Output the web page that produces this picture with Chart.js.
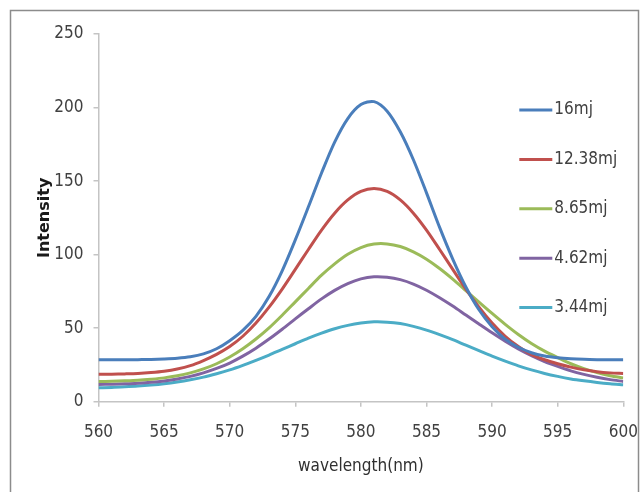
<!DOCTYPE html>
<html>
<head>
<meta charset="utf-8">
<title>Intensity vs wavelength</title>
<script src="https://cdn.jsdelivr.net/npm/chart.js@4.4.1/dist/chart.umd.min.js"></script>
<style>
  html, body { margin: 0; padding: 0; background: #ffffff; }
  #wrap { width: 643px; height: 492px; position: relative; }
</style>
</head>
<body>
<div id="wrap"><canvas id="spectrumChart" width="643" height="492"></canvas></div>
<script>
// wavelength (nm), one point per nm
const wavelength = [560, 561, 562, 563, 564, 565, 566, 567, 568, 569,
                    570, 571, 572, 573, 574, 575, 576, 577, 578, 579,
                    580, 581, 582, 583, 584, 585, 586, 587, 588, 589,
                    590, 591, 592, 593, 594, 595, 596, 597, 598, 599, 600];

const seriesNames = ["16mj", "12.38mj", "8.65mj", "4.62mj", "3.44mj"];

const int16 = [28.5, 28.5, 28.5, 28.6, 28.7, 29.0, 29.5, 30.5, 32.5, 36.0,
               41.5, 48.5, 58.0, 71.5, 89.0, 110.0, 132.5, 155.5, 176.5, 192.5,
               202.0, 204.0, 197.5, 183.5, 164.5, 142.0, 118.5, 97.0, 78.0, 62.5,
               51.0, 42.5, 37.0, 33.3, 31.1, 29.9, 29.2, 28.8, 28.6, 28.5, 28.5];

const int1238 = [18.6, 18.7, 18.9, 19.2, 19.8, 20.7, 22.2, 24.5, 28.0, 32.2,
                 37.5, 44.5, 53.5, 64.3, 76.6, 90.0, 103.5, 116.7, 128.2, 137.2,
                 143.0, 145.0, 143.0, 137.2, 128.2, 116.7, 103.5, 90.0, 76.6, 64.3,
                 53.5, 44.5, 37.5, 32.0, 28.5, 25.8, 23.5, 21.7, 20.4, 19.6, 19.2];

const int865 = [13.7, 13.9, 14.2, 14.6, 15.3, 16.2, 17.6, 19.6, 22.3, 25.8,
                30.4, 36.0, 42.6, 50.2, 58.8, 67.9, 77.0, 86.0, 93.7, 100.2,
                104.8, 107.2, 107.3, 105.5, 101.9, 96.9, 90.6, 83.4, 75.6, 67.7,
                60.0, 52.6, 45.7, 39.6, 34.4, 30.0, 25.8, 22.5, 19.8, 17.7, 16.2];

const int462 = [11.7, 11.9, 12.2, 12.6, 13.2, 14.1, 15.4, 17.2, 19.6, 22.6,
                26.3, 31.0, 36.4, 42.6, 49.3, 56.3, 63.2, 69.9, 75.7, 80.3,
                83.5, 84.9, 84.6, 83.0, 80.0, 75.8, 70.7, 65.0, 58.9, 52.8,
                46.8, 41.1, 35.9, 31.3, 27.3, 24.0, 21.0, 18.6, 16.6, 15.0, 13.8];

const int344 = [9.5, 9.7, 10.1, 10.6, 11.3, 12.2, 13.4, 14.9, 16.7, 19.0,
                21.6, 24.7, 28.1, 31.7, 35.6, 39.4, 43.2, 46.6, 49.6, 51.9,
                53.5, 54.3, 54.1, 53.1, 51.2, 48.7, 45.6, 42.2, 38.4, 34.7,
                31.0, 27.6, 24.4, 21.6, 19.2, 17.2, 15.5, 14.2, 13.1, 12.2, 11.5];

const seriesValues = [int16, int1238, int865, int462, int344];
const seriesColors = ["#4a7ebb", "#c0504d", "#9bbb59", "#8064a2", "#4bacc6"];

const NARROW = "'Liberation Sans Narrow', 'DejaVu Sans Condensed', 'Liberation Sans', sans-serif";
const TEXT = "#404040";
const AXIS = "#c4c4c4";

// gray frame around the whole figure
const frame = {
    id: "frame",
    beforeDraw(chart) {
        const ctx = chart.ctx;
        ctx.save();
        ctx.strokeStyle = "#8c8c8c";
        ctx.lineWidth = 1.5;
        ctx.strokeRect(10.5, 10.5, 628, 500);
        ctx.restore();
    }
};

// legend: short line + label, stacked inside the plot on the right
const lineLegend = {
    id: "lineLegend",
    afterDatasetsDraw(chart) {
        const { ctx, chartArea } = chart;
        const x0 = chartArea.right - 104;
        ctx.save();
        ctx.font = "17px " + NARROW;
        ctx.textBaseline = "middle";
        ctx.textAlign = "left";
        chart.data.datasets.forEach((ds, i) => {
            const y = chartArea.top + 76 + i * 49.4;
            ctx.strokeStyle = ds.borderColor;
            ctx.lineWidth = 3;
            ctx.beginPath();
            ctx.moveTo(x0, y);
            ctx.lineTo(x0 + 33, y);
            ctx.stroke();
            ctx.fillStyle = TEXT;
            ctx.fillText(ds.label, x0 + 35, y);
        });
        ctx.restore();
    }
};

const datasets = seriesNames.map((name, i) => ({
    label: name,
    data: wavelength.map((w, j) => ({ x: w, y: seriesValues[i][j] })),
    borderColor: seriesColors[i],
    backgroundColor: seriesColors[i],
    borderWidth: 3,
    pointRadius: 0,
    tension: 0.3,
    fill: false
}));

const ctx = document.getElementById("spectrumChart").getContext("2d");

new Chart(ctx, {
    type: "line",
    data: { datasets: datasets },
    options: {
        responsive: false,
        animation: false,
        layout: {
            padding: { left: 0, top: 34, right: 19.7, bottom: 0 }
        },
        plugins: {
            legend: { display: false },
            tooltip: { enabled: false }
        },
        scales: {
            x: {
                type: "linear",
                min: 560,
                max: 600,
                afterFit: (scale) => {
                    scale.height = 90.3;
                    scale.paddingLeft = 0;
                    scale.paddingRight = 0;
                },
                ticks: {
                    stepSize: 5,
                    color: TEXT,
                    padding: 16,
                    maxRotation: 0,
                    font: { family: NARROW, size: 17 }
                },
                grid: {
                    drawOnChartArea: false,
                    color: AXIS,
                    tickLength: 5,
                    lineWidth: 1.5
                },
                border: { color: AXIS, width: 1.5 },
                title: {
                    display: true,
                    text: "wavelength(nm)",
                    color: "#303030",
                    padding: { top: 0, bottom: 15.5 },
                    font: { family: NARROW, size: 17 }
                }
            },
            y: {
                min: 0,
                max: 250,
                afterFit: (scale) => { scale.width = 98.5; },
                ticks: {
                    stepSize: 50,
                    color: TEXT,
                    padding: 10,
                    font: { family: NARROW, size: 17 }
                },
                grid: {
                    drawOnChartArea: false,
                    color: AXIS,
                    tickLength: 5,
                    lineWidth: 1.5
                },
                border: { color: AXIS, width: 1.5 },
                title: {
                    display: true,
                    text: "Intensity",
                    color: "#1a1a1a",
                    padding: { top: 35.4, bottom: 0 },
                    font: { family: "'DejaVu Sans', sans-serif", size: 16, weight: "bold" }
                }
            }
        }
    },
    plugins: [frame, lineLegend]
});
</script>
</body>
</html>
